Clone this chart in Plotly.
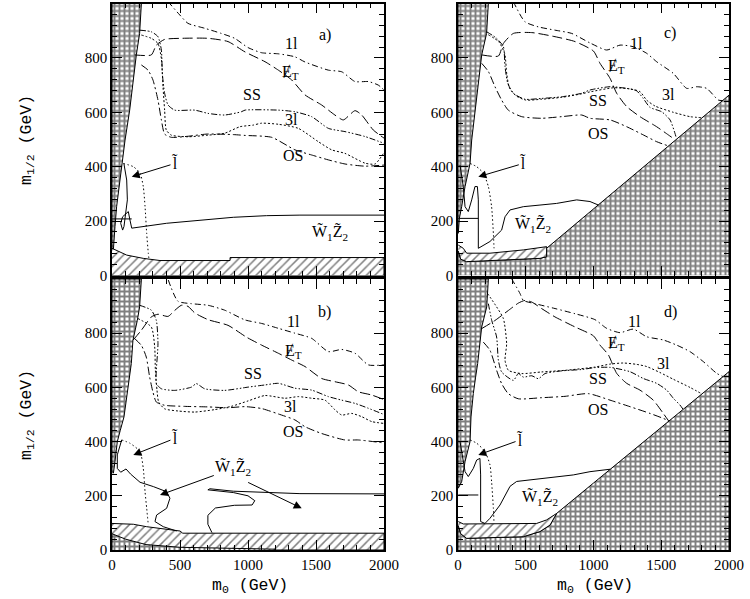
import plotly.graph_objects as go
from plotly.subplots import make_subplots

# ---------------- data (m0, m1/2) in GeV ----------------
# panel a
A_BRICK_LEFT = [(0,0),(0,1000),(216,1000),(203,890),(179,811),(154,707),(130,608),(96,498),(71,400),(50,320),(34,253),(22,180),(10,94),(20,60),(45,20),(50,0)]
A_HATCH = [(0,100),(108,75),(230,63),(353,55),(868,55),(868,66),(2000,66),(2000,0),(0,0)]
A_1L = [(412,1007),(498,958),(559,927),(681,909),(804,890),(902,872),(1000,838),(1100,819),(1223,815),(1345,804),(1419,785),(1591,755),(1689,749),(1787,713),(1885,713),(1958,700),(2000,682)]
A_ET = [(167,811),(289,811),(326,847),(387,868),(510,872),(706,872),(853,860),(978,822),(1125,786),(1223,755),(1321,719),(1419,664),(1541,627),(1639,590),(1701,572),(1787,606),(1836,590),(1921,535),(2000,505)]
A_SS = [(203,902),(289,896),(338,878),(363,829),(370,743),(387,670),(412,627),(461,608),(608,608),(706,596),(828,590),(951,602),(978,608),(1223,608),(1345,602),(1468,584),(1591,541),(1713,529),(1860,511),(2000,486)]
A_3L = [(216,884),(289,872),(338,853),(363,798),(375,694),(387,608),(399,535),(436,516),(559,510),(706,516),(828,523),(941,547),(1039,553),(1100,560),(1223,556),(1370,541),(1517,492),(1615,462),(1713,449),(1860,413),(1934,410),(2000,452)]
A_OS = [(216,774),(265,755),(301,719),(338,645),(363,572),(387,520),(436,508),(560,512),(700,520),(892,518),(978,515),(1174,508),(1345,462),(1468,443),(1591,425),(1713,410),(1860,402),(2000,406)]
A_SLEP = [(83,412),(157,400),(206,376),(230,327),(243,253),(255,155),(267,82),(272,60)]
A_W1Z2_H = [(0,208),(145,208)]
A_W1Z2 = [(88,410),(108,351),(113,278),(103,229),(88,180),(78,167),(64,192),(78,216),(120,235),(132,204),(145,174),(402,192),(647,204),(892,214),(1137,220),(1382,222),(2000,222)]

# panel b
B_BRICK_LEFT = [(0,283),(0,1000),(216,1000),(203,897),(186,847),(154,774),(142,688),(118,601),(88,491),(60,440),(39,400),(22,326),(10,283)]
B_BRICK_BOTTOM = [(0,0),(0,60),(100,40),(250,20),(500,10),(1200,3),(1200,0)]
B_HATCH = [(0,98),(157,95),(255,86),(353,80),(500,70),(520,62),(2000,62),(2000,0),(0,0)]
B_1L = [(414,996),(485,918),(583,909),(706,903),(828,885),(978,849),(1100,836),(1223,818),(1345,800),(1468,781),(1591,732),(1689,740),(1787,726),(1885,683),(2000,683)]
B_ET = [(154,774),(216,811),(289,860),(338,870),(412,862),(461,884),(510,903),(559,899),(608,875),(706,850),(853,829),(990,785),(1100,756),(1223,726),(1321,701),(1419,677),(1541,633),(1639,621),(1738,609),(1811,584),(1909,572),(2000,555)]
B_SS = [(203,903),(289,885),(326,847),(338,761),(326,663),(326,614),(363,595),(461,589),(584,601),(620,614),(681,595),(828,589),(1000,601),(1125,609),(1223,615),(1345,597),(1468,590),(1591,566),(1689,553),(1787,541),(1885,523),(2000,500)]
B_3L = [(191,854),(289,823),(314,749),(319,663),(331,589),(343,546),(387,521),(485,513),(608,509),(755,518),(877,530),(1000,550),(1125,570),(1272,560),(1370,566),(1468,560),(1566,553),(1640,517),(1689,498),(1762,504),(1836,492),(1909,474),(2000,467)]
B_OS = [(167,780),(216,755),(252,712),(277,638),(301,583),(326,546),(387,534),(534,530),(706,528),(853,525),(978,529),(1100,522),(1223,502),(1345,480),(1419,455),(1541,430),(1713,406),(1811,406),(2000,395)]
B_SLEP = [(71,406),(132,394),(206,363),(230,301),(243,215),(255,154),(267,92)]
B_W1Z2_A = [(71,406),(39,351),(39,301),(64,287),(103,299),(137,280),(206,250),(304,234),(402,215),(426,191),(402,154),(328,129),(316,105),(377,86),(475,70)]
B_W1Z2_B = [(2000,207),(1382,208),(892,217),(720,226),(705,222),(892,212),(1000,200),(1050,182),(1030,166),(900,165),(760,155),(705,128),(705,95),(735,64)]

# panel c
C_BRICK_LEFT = [(0,155),(0,1000),(224,1000),(211,890),(175,811),(150,707),(125,608),(101,498),(89,412),(52,327),(27,253),(10,210),(2,155)]
C_BRICK_BOTTOM = [(0,0),(0,90),(20,60),(64,51),(605,63),(654,69),(654,100),(900,203),(1100,286),(1368,398),(1589,491),(1786,573),(2000,663),(2000,0)]
C_HATCH = [(2,112),(39,100),(64,82),(236,82),(482,94),(654,106),(654,69),(605,63),(64,51),(20,60),(2,90)]
C_1L = [(408,1007),(494,933),(593,914),(716,902),(839,890),(974,855),(1097,829),(1196,847),(1294,841),(1392,817),(1466,786),(1589,743),(1688,688),(1761,694),(1835,688),(1921,645),(1955,643)]
C_ET = [(175,811),(298,807),(335,853),(409,890),(544,893),(716,878),(864,860),(1000,825),(1048,780),(1122,725),(1171,670),(1245,621),(1343,584),(1466,547),(1552,517),(1600,500)]
C_SS = [(212,896),(285,872),(335,841),(347,768),(367,707),(408,670),(494,648),(617,651),(765,657),(913,670),(974,682),(1122,694),(1245,688),(1318,679),(1367,651),(1417,618),(1503,602),(1565,572),(1601,523),(1612,504)]
C_3L = [(224,885),(300,860),(345,815),(360,740),(380,690),(430,660),(500,645),(617,648),(765,655),(913,668),(974,675),(1146,690),(1269,686),(1343,676),(1392,645),(1454,623),(1589,600),(1712,584),(1805,580)]
C_OS = [(175,780),(224,750),(273,694),(322,645),(371,608),(470,584),(617,578),(765,584),(913,590),(974,578),(1122,572),(1245,547),(1367,517),(1466,492),(1555,476)]
C_SLEP = [(89,412),(138,400),(187,376),(224,327),(248,253),(261,155),(266,100)]
C_W1Z2_H = [(2,210),(150,210)]
C_W1Z2 = [(15,406),(39,327),(52,253),(76,235),(101,278),(125,327),(143,327),(150,278),(150,100),(236,125),(322,167),(347,216),(384,241),(482,253),(605,259),(728,265),(876,278),(974,272),(1036,259)]

# panel d
D_BRICK_LEFT = [(0,228),(0,1000),(224,1000),(212,897),(175,823),(162,761),(145,688),(130,638),(113,577),(96,491),(89,400),(52,326),(27,252),(2,228)]
D_BRICK_BOTTOM = [(0,0),(0,90),(20,60),(64,43),(482,49),(605,68),(679,92),(728,135),(1000,247),(1200,329),(1500,452),(1700,535),(2000,658),(2000,0)]
D_HATCH = [(2,105),(39,96),(580,98),(654,111),(728,135),(679,92),(605,68),(482,49),(64,43),(20,60),(2,90)]
D_1L = [(396,1001),(458,946),(482,921),(568,909),(716,891),(863,872),(1011,850),(1097,818),(1196,802),(1294,815),(1392,787),(1515,775),(1614,756),(1712,732),(1811,695),(1909,652),(1955,640)]
D_ET = [(175,817),(273,847),(372,884),(445,911),(494,921),(544,915),(617,891),(716,860),(864,823),(1000,790),(1048,756),(1110,720),(1171,652),(1245,615),(1343,590),(1441,553),(1515,504),(1555,476)]
D_SS = [(224,909),(249,847),(285,786),(298,700),(322,657),(409,626),(445,651),(482,638),(544,643),(593,632),(642,651),(765,661),(913,666),(1011,673),(1122,674),(1269,658),(1367,633),(1466,615),(1540,590),(1589,560),(1638,535),(1660,520)]
D_3L = [(219,946),(285,897),(335,854),(359,761),(347,700),(372,663),(470,651),(617,657),(790,663),(1011,675),(1122,686),(1220,690),(1318,685),(1392,677),(1490,655),(1589,630),(1712,600),(1800,576)]
D_OS = [(187,767),(236,737),(285,663),(322,614),(371,577),(445,558),(617,562),(790,567),(962,577),(1122,553),(1269,529),(1417,504),(1540,480),(1552,474)]
D_SLEP = [(89,406),(138,394),(199,363),(236,314),(248,252),(261,154),(266,98)]
D_W1Z2_H = [(2,203),(150,203)]
D_W1Z2 = [(15,400),(39,326),(52,289),(76,271),(113,301),(138,332),(162,338),(167,277),(167,105),(199,98),(236,117),(310,166),(384,235),(433,253),(605,264),(851,277),(974,289),(1122,298)]

X_TICKS = [0, 500, 1000, 1500, 2000]
Y_TICKS = [0, 200, 400, 600, 800]

# ---------------- figure ----------------
fig = make_subplots(rows=2, cols=2)

BRICK = dict(shape="+", size=5, solidity=0.62, fgcolor="black", bgcolor="white")
HATCH = dict(shape="/", size=6, solidity=0.25, fgcolor="black", bgcolor="white")

DASH = {
    "1l": "6px,3px,1.5px,3px",
    "et": "10px,4px",
    "ss": "6px,2px,1.5px,2px,1.5px,2px",
    "3l": "2px,2px",
    "os": "8px,3px,2px,3px",
    "slep": "1.5px,2.5px",
    "solid": "solid",
}

def xs(p):
    return [q[0] for q in p]

def ys(p):
    return [q[1] for q in p]

def poly(pts, pat, r, c):
    fig.add_trace(go.Scatter(x=xs(pts), y=ys(pts), mode="lines", fill="toself",
                             fillcolor="white", fillpattern=pat,
                             line=dict(color="black", width=1),
                             hoverinfo="skip", showlegend=False), row=r, col=c)

def curve(pts, kind, r, c, shape="spline"):
    fig.add_trace(go.Scatter(x=xs(pts), y=ys(pts), mode="lines",
                             line=dict(color="black", width=1, dash=DASH[kind],
                                       shape=shape, smoothing=0.6),
                             hoverinfo="skip", showlegend=False), row=r, col=c)

panels = [
    (1, 1, [A_BRICK_LEFT], [A_HATCH], A_1L, A_ET, A_SS, A_3L, A_OS, A_SLEP, [A_W1Z2_H, A_W1Z2]),
    (2, 1, [B_BRICK_LEFT, B_BRICK_BOTTOM], [B_HATCH], B_1L, B_ET, B_SS, B_3L, B_OS, B_SLEP, [B_W1Z2_A, B_W1Z2_B]),
    (1, 2, [C_BRICK_LEFT, C_BRICK_BOTTOM], [C_HATCH], C_1L, C_ET, C_SS, C_3L, C_OS, C_SLEP, [C_W1Z2_H, C_W1Z2]),
    (2, 2, [D_BRICK_LEFT, D_BRICK_BOTTOM], [D_HATCH], D_1L, D_ET, D_SS, D_3L, D_OS, D_SLEP, [D_W1Z2_H, D_W1Z2]),
]

for r, c, bricks, hatches, l1, et, ss, l3, os_, slep, wz in panels:
    if r == 2 and c == 1:
        poly(hatches[0], HATCH, r, c)
        for b in bricks:
            poly(b, BRICK, r, c)
    else:
        for b in bricks:
            poly(b, BRICK, r, c)
        for h in hatches:
            poly(h, HATCH, r, c)
    curve(l1, "1l", r, c)
    curve(et, "et", r, c)
    curve(ss, "ss", r, c)
    curve(l3, "3l", r, c)
    curve(os_, "os", r, c)
    curve(slep, "slep", r, c)
    for w in wz:
        curve(w, "solid", r, c, shape="linear")

W, H = 750, 599

def px(xp):
    return xp / W

def py(yp):
    return (H - yp) / H

XL = [px(112), px(384)]
XR = [px(458), px(729)]
YT = [py(275.5), py(3.5)]
YB = [py(550), py(279)]

tickfont = dict(family="Liberation Serif", size=15, color="black")
axcommon = dict(showgrid=False, zeroline=False, showline=True, linecolor="black",
                linewidth=1.5, mirror="ticks", ticks="inside", ticklen=10,
                tickcolor="black", tickwidth=1, tickfont=tickfont, automargin=False)

for i, (xd, yd, showx) in enumerate([(XL, YT, False), (XR, YT, False), (XL, YB, True), (XR, YB, True)], start=1):
    fig.update_layout(**{
        f"xaxis{i if i > 1 else ''}": dict(domain=xd, range=[0, 2000], tickmode="array",
                                            tickvals=X_TICKS, showticklabels=showx,
                                            minor=dict(dtick=100, ticklen=5, ticks="inside", tickcolor="black"),
                                            **axcommon),
        f"yaxis{i if i > 1 else ''}": dict(domain=yd, range=[0, 1000], tickmode="array",
                                            tickvals=Y_TICKS,
                                            minor=dict(dtick=40, ticklen=5, ticks="inside", tickcolor="black"),
                                            **axcommon),
    })

lab = dict(family="Liberation Serif, DejaVu Serif", size=16, color="black")
refs = {"a": ("x", "y"), "c": ("x2", "y2"), "b": ("x3", "y3"), "d": ("x4", "y4")}
ET_TXT = "Ɇ<sub>T</sub>"
WZ_TXT = "W̃<sub>1</sub>Z̃<sub>2</sub>"
LABELS = {
    "a": [("a)", 1566, 884), ("1l", 1321, 853), (ET_TXT, 1315, 745), ("SS", 1027, 664),
          ("3l", 1321, 572), ("OS", 1333, 443), (WZ_TXT, 1603, 155)],
    "b": [("b)", 1566, 879), ("1l", 1333, 843), (ET_TXT, 1333, 733), ("SS", 1039, 652),
          ("3l", 1309, 529), ("OS", 1333, 437)],
    "c": [("c)", 1565, 890), ("1l", 1319, 854), (ET_TXT, 1171, 768), ("SS", 1036, 645),
          ("3l", 1552, 664), ("OS", 1036, 523), (WZ_TXT, 556, 186)],
    "d": [("d)", 1565, 879), ("1l", 1306, 843), (ET_TXT, 1171, 763), ("SS", 1036, 633),
          ("3l", 1515, 689), ("OS", 1036, 517), (WZ_TXT, 605, 191)],
}
for p, items in LABELS.items():
    xr, yr = refs[p]
    for t, x, y in items:
        fig.add_annotation(x=x, y=y, xref=xr, yref=yr, text=t, showarrow=False, font=lab)

ARROWS = {
    "a": [("l̃", 145, 363, 463, 412)],
    "b": [("l̃", 157, 351, 463, 412), (WZ_TXT, 353, 203, 892, 301), ("", 1395, 154, 990, 252)],
    "c": [("l̃", 150, 363, 482, 412)],
    "d": [("l̃", 150, 351, 458, 406)],
}
for p, items in ARROWS.items():
    xr, yr = refs[p]
    for t, x, y, ax, ay in items:
        fig.add_annotation(x=x, y=y, xref=xr, yref=yr, ax=ax, ay=ay, axref=xr, ayref=yr,
                           text=t, showarrow=True, arrowhead=2, arrowsize=1.6, arrowwidth=1,
                           arrowcolor="black", font=lab)

tfont = dict(family="Liberation Mono", size=16.5, color="black")
for yc in [py(140), py(415)]:
    fig.add_annotation(x=px(27), y=yc, xref="paper", yref="paper", text="m<sub>1/2</sub> (GeV)",
                       textangle=-90, showarrow=False, font=tfont, xanchor="center", yanchor="middle")
for xc in [px(250), px(595)]:
    fig.add_annotation(x=xc, y=py(598), xref="paper", yref="paper", text="m<sub>0</sub> (GeV)",
                       showarrow=False, font=tfont, xanchor="center", yanchor="bottom")

fig.update_layout(width=W, height=H, autosize=False, margin=dict(l=0, r=0, t=0, b=0),
                  paper_bgcolor="white", plot_bgcolor="white", showlegend=False)

fig.write_html("out.html", config={"displayModeBar": False},
               post_script="document.body.style.margin='0px';document.body.style.padding='0px';")
